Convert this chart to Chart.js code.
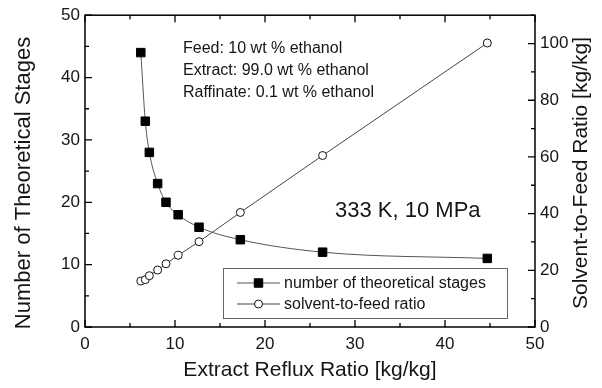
<!DOCTYPE html>
<html>
<head>
<meta charset="utf-8">
<script src="https://cdn.jsdelivr.net/npm/chart.js@4.4.0/dist/chart.umd.min.js"></script>
<style>
  html, body { margin: 0; padding: 0; background: #fff; }
  canvas { display: block; }
</style>
</head>
<body>
<canvas id="chart_1" width="602" height="388"></canvas>
<script>
// values
const refluxRatio = [6.2, 6.7, 7.15, 8.07, 9.0, 10.35, 12.67, 17.26, 26.4, 44.7];
const theoreticalStages = [44, 33, 28, 23, 20, 18, 16, 14, 12, 11];
const solventToFeed = [16.2, 16.7, 18.1, 20.1, 22.3, 25.3, 30.1, 40.4, 60.5, 100.2];

const xTicks = [0, 10, 20, 30, 40, 50];
const leftTicks = [0, 10, 20, 30, 40, 50];
const rightTicks = [0, 20, 40, 60, 80, 100];

const noteLines = ['Feed: 10 wt % ethanol', 'Extract: 99.0 wt % ethanol', 'Raffinate: 0.1 wt % ethanol'];
const conditionLabel = '333 K, 10 MPa';
const leftTitle = 'Number of Theoretical Stages';
const rightTitle = 'Solvent-to-Feed Ratio [kg/kg]';

const FONT = '"Liberation Sans", Arial, sans-serif';
const INK = '#151515';

function drawVertical(ctx, text, x, y, size) {
    ctx.save();
    ctx.translate(x, y);
    ctx.rotate(-Math.PI / 2);
    ctx.textAlign = 'center';
    ctx.textBaseline = 'middle';
    ctx.font = size + 'px ' + FONT;
    ctx.fillStyle = INK;
    ctx.fillText(text, 0, 0);
    ctx.restore();
}

// inward ticks, frame, notes and legend box
const decorations = {
    id: 'decorations',
    afterDatasetsDraw(chart) {
        const ctx = chart.ctx;
        const a = chart.chartArea;
        const x = chart.scales.x, y = chart.scales.y, y2 = chart.scales.y2;
        ctx.save();
        ctx.strokeStyle = '#000';
        ctx.lineWidth = 1.3;

        // ticks
        ctx.beginPath();
        for (let v = 0; v <= 50; v += 5) {
            const len = v % 10 === 0 ? 7 : 4;
            const px = x.getPixelForValue(v);
            ctx.moveTo(px, a.bottom); ctx.lineTo(px, a.bottom - len);
            ctx.moveTo(px, a.top); ctx.lineTo(px, a.top + len);
            const py = y.getPixelForValue(v);
            ctx.moveTo(a.left, py); ctx.lineTo(a.left + len, py);
        }
        for (let v = 0; v <= 110; v += 10) {
            const len = v % 20 === 0 ? 7 : 4;
            const py = y2.getPixelForValue(v);
            ctx.moveTo(a.right, py); ctx.lineTo(a.right - len, py);
        }
        ctx.stroke();

        // frame
        ctx.lineWidth = 1.5;
        ctx.strokeRect(a.left, a.top, a.right - a.left, a.bottom - a.top);

        // notes
        ctx.fillStyle = INK;
        ctx.textBaseline = 'middle';
        ctx.textAlign = 'left';
        ctx.font = '16px ' + FONT;
        noteLines.forEach((t, i) => ctx.fillText(t, 183, 49 + i * 22));
        ctx.font = '22px ' + FONT;
        ctx.fillText(conditionLabel, 335, 211);

        // legend
        ctx.strokeStyle = '#666';
        ctx.lineWidth = 1;
        ctx.fillStyle = '#fff';
        ctx.fillRect(223, 268, 284, 50);
        ctx.strokeRect(223.5, 268.5, 284, 50);
        chart.data.datasets.forEach((ds, i) => {
            const ly = 283 + i * 21;
            ctx.strokeStyle = ds.borderColor;
            ctx.lineWidth = 1;
            ctx.beginPath();
            ctx.moveTo(237, ly); ctx.lineTo(280, ly);
            ctx.stroke();
            ctx.fillStyle = ds.pointBackgroundColor;
            ctx.strokeStyle = ds.pointBorderColor;
            Chart.helpers.drawPoint(ctx, {
                pointStyle: ds.pointStyle,
                radius: ds.pointRadius,
                borderWidth: ds.pointBorderWidth
            }, 258.5, ly);
            ctx.fillStyle = INK;
            ctx.font = '16px ' + FONT;
            ctx.textAlign = 'left';
            ctx.fillText(ds.label, 284, ly + 1);
        });
        ctx.restore();

        // axis titles reading bottom to top
        drawVertical(ctx, leftTitle, 24, 183, 22);
        drawVertical(ctx, rightTitle, 581, 173, 21);
    }
};

const tickFont = { family: FONT, size: 17 };
const titleFont = { family: FONT, size: 21 };

const data = {
    datasets: [
        {
            label: 'number of theoretical stages',
            data: refluxRatio.map((r, i) => ({ x: r, y: theoreticalStages[i] })),
            yAxisID: 'y',
            borderColor: '#555',
            borderWidth: 1,
            cubicInterpolationMode: 'monotone',
            pointStyle: 'rect',
            pointRadius: 6,
            pointBackgroundColor: '#000',
            pointBorderColor: '#000',
            pointBorderWidth: 1
        },
        {
            label: 'solvent-to-feed ratio',
            data: refluxRatio.map((r, i) => ({ x: r, y: solventToFeed[i] })),
            yAxisID: 'y2',
            borderColor: '#444',
            borderWidth: 1,
            pointStyle: 'circle',
            pointRadius: 4,
            pointBackgroundColor: '#fff',
            pointBorderColor: '#111',
            pointBorderWidth: 1
        }
    ]
};

const config = {
    type: 'line',
    data: data,
    options: {
        responsive: false,
        animation: false,
        devicePixelRatio: 1,
        layout: { padding: { top: 14, left: 0, right: 0, bottom: 0 } },
        plugins: {
            legend: { display: false },
            tooltip: { enabled: false }
        },
        scales: {
            x: {
                type: 'linear',
                min: 0, max: 50,
                afterBuildTicks: s => { s.ticks = xTicks.map(v => ({ value: v })); },
                afterFit: s => { s.height = 61; },
                grid: { display: false, drawTicks: false },
                border: { display: false },
                ticks: { font: tickFont, color: INK, padding: 7, maxRotation: 0 },
                title: {
                    display: true,
                    text: 'Extract Reflux Ratio [kg/kg]',
                    font: titleFont, color: INK,
                    padding: { top: 0, bottom: 5 }
                }
            },
            y: {
                type: 'linear',
                position: 'left',
                min: 0, max: 50,
                afterBuildTicks: s => { s.ticks = leftTicks.map(v => ({ value: v })); },
                afterFit: s => { s.width = 85; },
                grid: { display: false, drawTicks: false },
                border: { display: false },
                ticks: { font: tickFont, color: INK, padding: 5 }
            },
            y2: {
                type: 'linear',
                position: 'right',
                min: 0, max: 110,
                afterBuildTicks: s => { s.ticks = rightTicks.map(v => ({ value: v })); },
                afterFit: s => { s.width = 67; },
                grid: { display: false, drawTicks: false },
                border: { display: false },
                ticks: { font: tickFont, color: INK, padding: 5 }
            }
        }
    },
    plugins: [decorations]
};

var myChart = new Chart(document.getElementById('chart_1'), config);
</script>
</body>
</html>
